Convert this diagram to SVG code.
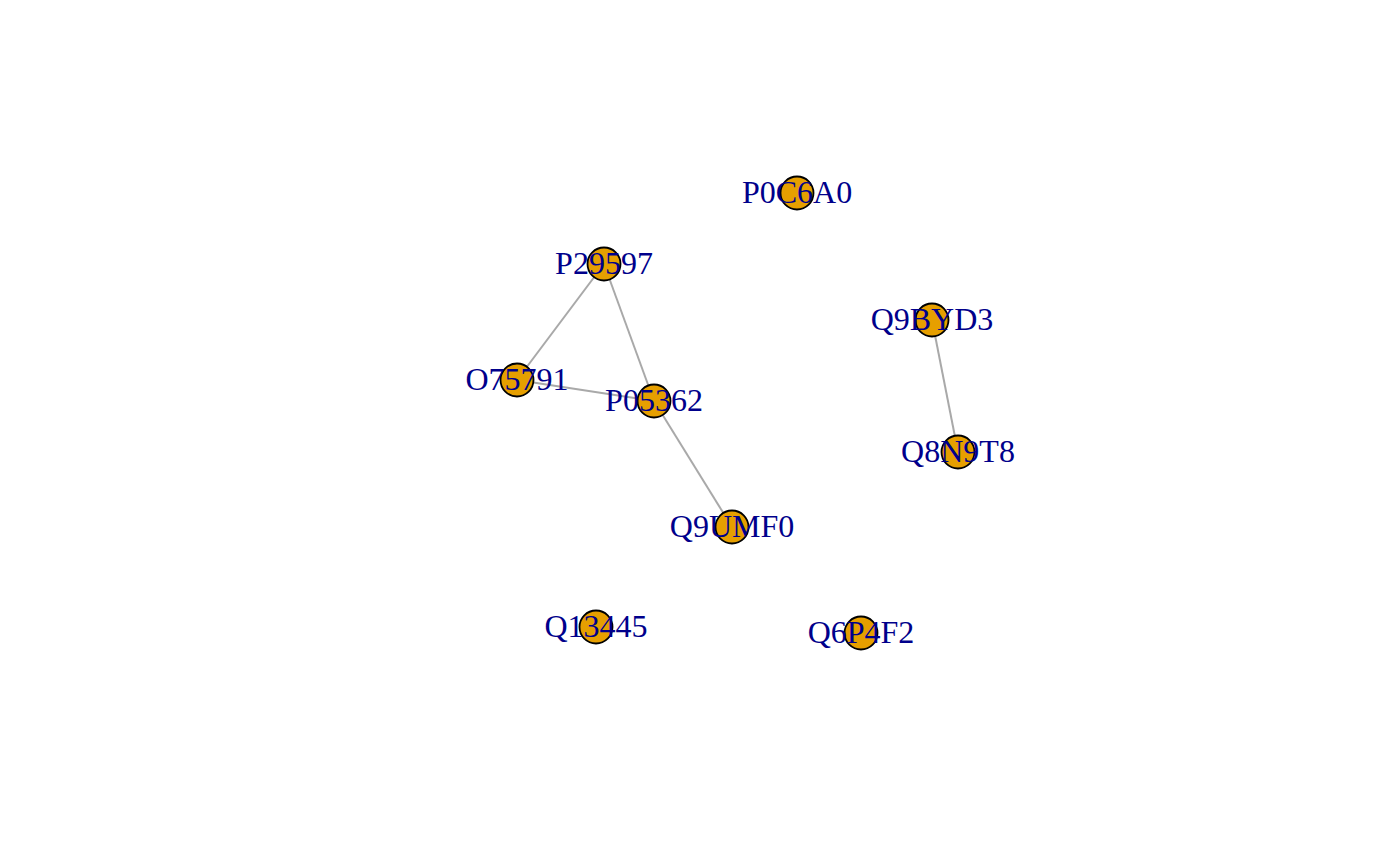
<svg xmlns="http://www.w3.org/2000/svg" width="1400" height="865" viewBox="0 0 1400 865">
<style>
.e{stroke:#A9A9A9;stroke-width:2;fill:none}
.n circle{fill:#E69F00;stroke:#000;stroke-width:1.8}
.n text{font-family:"Liberation Serif","Times New Roman",serif;font-size:32px;fill:#00008B;text-anchor:middle}
</style>
<rect width="1400" height="865" fill="#fff"/>
<g id="edges">
<line class="e" x1="604" y1="264" x2="517" y2="380"/>
<line class="e" x1="604" y1="264" x2="654" y2="401"/>
<line class="e" x1="517" y1="380" x2="654" y2="401"/>
<line class="e" x1="654" y1="401" x2="732" y2="527"/>
<line class="e" x1="932" y1="320" x2="958" y2="452"/>
</g>
<g id="P0C6A0" class="n"><circle cx="797" cy="193" r="16.5"/><text x="797" y="203">P0C6A0</text></g>
<g id="P29597" class="n"><circle cx="604" cy="264" r="16.5"/><text x="604" y="274">P29597</text></g>
<g id="Q9BYD3" class="n"><circle cx="932" cy="320" r="16.5"/><text x="932" y="330">Q9BYD3</text></g>
<g id="O75791" class="n"><circle cx="517" cy="380" r="16.5"/><text x="517" y="390">O75791</text></g>
<g id="P05362" class="n"><circle cx="654" cy="401" r="16.5"/><text x="654" y="411">P05362</text></g>
<g id="Q8N9T8" class="n"><circle cx="958" cy="452" r="16.5"/><text x="958" y="462">Q8N9T8</text></g>
<g id="Q9UMF0" class="n"><circle cx="732" cy="527" r="16.5"/><text x="732" y="537">Q9UMF0</text></g>
<g id="Q13445" class="n"><circle cx="596" cy="627" r="16.5"/><text x="596" y="637">Q13445</text></g>
<g id="Q6P4F2" class="n"><circle cx="861" cy="633" r="16.5"/><text x="861" y="643">Q6P4F2</text></g>
</svg>
